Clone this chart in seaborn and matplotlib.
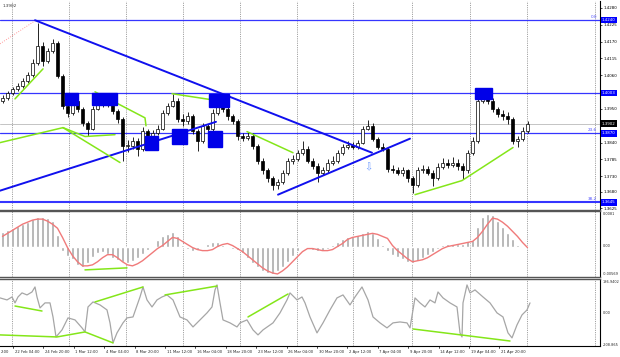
import numpy as np
import matplotlib
matplotlib.use("Agg")
import matplotlib.pyplot as plt
import seaborn as sns

# ---- price data (one candle every 2.5 H4 bars) ----
first_open = 1.3975
close = [1.3987, 1.4003, 1.4016, 1.4026, 1.4042, 1.4062, 1.4101, 1.4156, 1.4107, 1.4140,
         1.4166, 1.4058, 1.3961, 1.3938, 1.3977, 1.3951, 1.3905, 1.3886, 1.3951, 1.3977,
         1.3964, 1.3977, 1.3944, 1.3918, 1.3830, 1.3830, 1.3846, 1.3820, 1.3879, 1.3853,
         1.3873, 1.3886, 1.3938, 1.3961, 1.3977, 1.3918, 1.3912, 1.3928, 1.3879, 1.3846,
         1.3895, 1.3886, 1.3938, 1.3964, 1.3951, 1.3928, 1.3912, 1.3863, 1.3856, 1.3863,
         1.3830, 1.3781, 1.3749, 1.3723, 1.3700, 1.3710, 1.3742, 1.3781, 1.3788, 1.3807,
         1.3820, 1.3781, 1.3765, 1.3742, 1.3749, 1.3775, 1.3781, 1.3807, 1.3827, 1.3833,
         1.3827, 1.3840, 1.3886, 1.3895, 1.3853, 1.3827, 1.3820, 1.3755, 1.3749, 1.3742,
         1.3749, 1.3723, 1.3700, 1.3749, 1.3755, 1.3742, 1.3723, 1.3762, 1.3775, 1.3768,
         1.3775, 1.3765, 1.3749, 1.3807, 1.3846, 1.3977, 1.3996, 1.3977, 1.3951, 1.3934,
         1.3928, 1.3918, 1.3846, 1.3853, 1.3879, 1.3902]
high = [1.3995, 1.4010, 1.4022, 1.4034, 1.4050, 1.4070, 1.4112, 1.4231, 1.4170, 1.4150,
        1.4178, 1.4172, 1.4064, 1.3970, 1.3990, 1.3995, 1.3958, 1.3912, 1.3960, 1.3990,
        1.3998, 1.3992, 1.3985, 1.3950, 1.3925, 1.3850, 1.3858, 1.3855, 1.3890, 1.3885,
        1.3882, 1.3896, 1.3946, 1.3970, 1.3999, 1.3985, 1.3935, 1.3940, 1.3935, 1.3885,
        1.3905, 1.3902, 1.3950, 1.3990, 1.3985, 1.3962, 1.3935, 1.3918, 1.3872, 1.3875,
        1.3870, 1.3836, 1.3790, 1.3756, 1.3730, 1.3722, 1.3750, 1.3790, 1.3800, 1.3815,
        1.3845, 1.3828, 1.3790, 1.3772, 1.3760, 1.3785, 1.3795, 1.3815, 1.3835, 1.3846,
        1.3842, 1.3850, 1.3895, 1.3914, 1.3905, 1.3860, 1.3838, 1.3826, 1.3768, 1.3760,
        1.3762, 1.3755, 1.3730, 1.3760, 1.3768, 1.3765, 1.3750, 1.3772, 1.3790, 1.3785,
        1.3792, 1.3786, 1.3775, 1.3815, 1.3860, 1.3985, 1.4010, 1.4005, 1.3985, 1.3958,
        1.3945, 1.3940, 1.3925, 1.3862, 1.3890, 1.3910]
low = [1.3968, 1.3980, 1.3996, 1.4008, 1.4020, 1.4035, 1.4055, 1.4095, 1.4090, 1.4100,
       1.4132, 1.4050, 1.3950, 1.3925, 1.3930, 1.3940, 1.3895, 1.3862, 1.3880, 1.3945,
       1.3955, 1.3955, 1.3935, 1.3905, 1.3780, 1.3810, 1.3818, 1.3795, 1.3812, 1.3840,
       1.3845, 1.3866, 1.3880, 1.3930, 1.3955, 1.3908, 1.3895, 1.3902, 1.3868, 1.3814,
       1.3840, 1.3875, 1.3848, 1.3930, 1.3940, 1.3915, 1.3900, 1.3850, 1.3845, 1.3848,
       1.3820, 1.3770, 1.3738, 1.3710, 1.3685, 1.3690, 1.3704, 1.3735, 1.3770, 1.3780,
       1.3800, 1.3772, 1.3755, 1.3712, 1.3735, 1.3740, 1.3768, 1.3775, 1.3800, 1.3820,
       1.3818, 1.3820, 1.3835, 1.3880, 1.3845, 1.3818, 1.3812, 1.3745, 1.3740, 1.3735,
       1.3732, 1.3712, 1.3676, 1.3695, 1.3742, 1.3735, 1.3697, 1.3718, 1.3755, 1.3758,
       1.3762, 1.3752, 1.3720, 1.3742, 1.3800, 1.3840, 1.3970, 1.3965, 1.3940, 1.3925,
       1.3915, 1.3900, 1.3835, 1.3827, 1.3845, 1.3870]

# ---- MACD ----
macd_hist = [0.00324, 0.00370, 0.00417, 0.00463, 0.00509, 0.00555, 0.00625, 0.00671, 0.00671, 0.00648,
             0.00579, 0.00255, -0.00093, -0.00208, -0.00278, -0.00417, -0.00463, -0.00370, -0.00231, -0.00139,
             -0.00116, -0.00162, -0.00255, -0.00301, -0.00347, -0.00370, -0.00324, -0.00255, -0.00162, -0.00069,
             0.00023, 0.00139, 0.00231, 0.00278, 0.00324, 0.00231, 0.00046, -0.00046, -0.00093, -0.00069,
             -0.00023, 0.00069, 0.00093, 0.00093, 0.00046, -0.00023, -0.00046, -0.00069, -0.00139, -0.00255,
             -0.00370, -0.00463, -0.00555, -0.00602, -0.00625, -0.00555, -0.00463, -0.00347, -0.00208, -0.00093,
             -0.00023, -0.00046, -0.00069, -0.00093, -0.00093, -0.00046, 0.00046, 0.00093, 0.00162, 0.00208,
             0.00231, 0.00255, 0.00301, 0.00347, 0.00301, 0.00185, 0.00046, -0.00093, -0.00185, -0.00231,
             -0.00278, -0.00347, -0.00370, -0.00324, -0.00255, -0.00185, -0.00116, -0.00046, 0.00046, 0.00069,
             0.00069, 0.00069, 0.00069, 0.00116, 0.00139, 0.00440, 0.00671, 0.00740, 0.00717, 0.00579,
             0.00440, 0.00301, 0.00162, 0.00046, 0.00023, 0.00012]
macd_signal = [0.00231, 0.00301, 0.00370, 0.00440, 0.00509, 0.00555, 0.00602, 0.00625, 0.00625, 0.00579,
               0.00509, 0.00417, 0.00208, -0.00023, -0.00208, -0.00347, -0.00440, -0.00440, -0.00417, -0.00347,
               -0.00255, -0.00185, -0.00185, -0.00255, -0.00347, -0.00417, -0.00440, -0.00393, -0.00324, -0.00231,
               -0.00139, -0.00046, 0.00023, 0.00116, 0.00208, 0.00185, 0.00116, 0.00046, -0.00023, -0.00069,
               -0.00093, -0.00093, -0.00069, 0.0, 0.00046, 0.00069, 0.00023, -0.00046, -0.00116, -0.00208,
               -0.00301, -0.00393, -0.00486, -0.00555, -0.00602, -0.00625, -0.00555, -0.00463, -0.00347, -0.00231,
               -0.00116, -0.00046, -0.00046, -0.00069, -0.00093, -0.00093, -0.00069, 0.0, 0.00069, 0.00162,
               0.00208, 0.00231, 0.00255, 0.00278, 0.00301, 0.00278, 0.00231, 0.00185, 0.00023, -0.00093,
               -0.00185, -0.00278, -0.00347, -0.00324, -0.00301, -0.00255, -0.00185, -0.00116, -0.00046, 0.0,
               0.00023, 0.00046, 0.00069, 0.00093, 0.00116, 0.00208, 0.00347, 0.00509, 0.00648, 0.00625,
               0.00555, 0.00463, 0.00347, 0.00231, 0.00093, -0.00023]

# ---- oscillator (bar index, value) ----
osc_x = [0, 3.5, 6, 7.5, 9, 11, 13.5, 16, 17.5, 18.5, 20, 22.5, 25, 26.5, 28, 31, 34, 37.5, 41, 42.5,
         44, 46.5, 50, 53.5, 55, 56.5, 58.5, 61.5, 63.5, 66.5, 70, 71.5, 73.5, 76, 78.5, 81, 83.5, 86.5,
         90, 93.5, 96.5, 100, 103.5, 106, 107.5, 108.5, 110, 111.5, 115, 118.5, 120, 123.5, 126.5, 129,
         131.5, 136.5, 140, 143.5, 145, 148.5, 151, 152.5, 155, 158.5, 161.5, 165, 168.5, 171.5, 175,
         177.5, 181, 184, 186.5, 190, 193.5, 196.5, 200, 203.5, 205, 207.5, 210, 212.5, 215, 217.5, 219,
         221.5, 225, 228.5, 230, 231, 231.5, 233.5, 235, 237.5, 241.5, 245, 248.5, 251.5, 254, 256,
         258.5, 261, 263.5, 265]
osc_v = [90, 77, 96, 58, 96, 122, 109, 128, 160, 96, 26, 58, 58, -32, -160, -115, -38, -51, -102, -128,
         32, 64, 45, 13, -70, -198, -134, -70, -38, -32, 96, 160, 77, 32, 77, 96, 109, 77,
         -32, -51, -96, -51, -6, 32, 141, 173, 58, -51, -70, -96, -70, -51, -115, -147,
         -115, -70, -6, 77, 122, 77, 96, 58, -32, -134, -70, 13, 90, 109, 45,
         96, 160, 77, -32, -70, -102, -70, -64, -70, -102, 90, 58, 32, 77, 58, 128,
         90, 58, 32, -134, -160, 58, 173, 122, 141, 96, 58, -6, -32, -134, -166,
         -83, -19, 13, 58]

# first entry is the tail of a label cut by the left edge
time_labels = ["2:00", "22 Feb 04:00", "24 Feb 20:00", "1 Mar 12:00", "4 Mar 04:00",
               "8 Mar 20:00", "11 Mar 12:00", "16 Mar 04:00", "18 Mar 20:00", "23 Mar 12:00",
               "26 Mar 04:00", "30 Mar 20:00", "2 Apr 12:00", "7 Apr 04:00", "9 Apr 20:00",
               "14 Apr 12:00", "19 Apr 04:00", "21 Apr 20:00"]

price_ticks = [1.4280, 1.4225, 1.4170, 1.4115, 1.4060, 1.3950, 1.3840, 1.3785, 1.3730, 1.3680, 1.3625]
level_prices = [1.4240, 1.4003, 1.3870, 1.3645]
fib_names = ["0.0", "", "23.6", "38.2"]
last_price = 1.3902

# trend lines, zones, divergence lines (bar index, price)
blue_trends = [((17.5, 1.4240), (186, 1.3807)),
               ((0, 1.3683), (108, 1.3908)),
               ((139, 1.3670), (205, 1.3853))]
zones = [(32.5, 39, 1.3964, 1.4003), (46, 58.5, 1.3964, 1.4003), (72.5, 79, 1.3817, 1.3863),
         (86, 93.5, 1.3837, 1.3886), (104, 111, 1.3827, 1.3879), (104.5, 114.5, 1.3957, 1.4000),
         (237.5, 246, 1.3983, 1.4019)]
green_price = [[(7.5, 1.3983), (21.5, 1.4081)],
               [(0, 1.3840), (31.5, 1.3889)],
               [(31.5, 1.3889), (60, 1.3775)],
               [(31.5, 1.3889), (42.5, 1.3860), (57.5, 1.3866)],
               [(47.5, 1.4006), (72.5, 1.3921), (73, 1.3895)],
               [(86, 1.4000), (109, 1.3977)],
               [(123.5, 1.3876), (146.5, 1.3807)],
               [(207.5, 1.3670), (231, 1.3716), (256.5, 1.3824)]]
green_macd = [[(42.5, -0.00532), (63.5, -0.00486)]]
green_osc = [[(7.5, 38), (21, 6)],
             [(0, -147), (28.5, -160), (42.5, -128), (56.5, -198)],
             [(47.5, 64), (71.5, 160)],
             [(82.5, 109), (108.5, 166)],
             [(124, -32), (144, 115)],
             [(206.5, -109), (255, -186)]]

sns.set_theme(style="white")
plt.rcParams['font.family'] = ['DejaVu Sans']

W, H = 620, 357
fig = plt.figure(figsize=(W / 100, H / 100), dpi=100)


def panel(top, bottom):
    return fig.add_axes([0, 1 - bottom / H, 600 / W, (bottom - top) / H])


ax1 = panel(1, 209.5)
ax2 = panel(211, 277)
ax3 = panel(279, 346)

BLUE = "#0000ff"
GREEN = "#84e619"
AX_FS = 2.9
grid_x = [6, 34.5, 63, 91.5, 120, 148.5, 176.5, 206, 235, 263.5, 297.5]

for ax in (ax1, ax2, ax3):
    ax.set_xlim(0, 300)
    ax.set_facecolor("white")
    for gx in grid_x:
        ax.axvline(gx, color="#7a7a7a", lw=0.5, ls=(0, (1.6, 1.6)), zorder=0)
    ax.spines["left"].set_visible(False)
    ax.spines["right"].set_color("black")
    ax.spines["right"].set_linewidth(0.8)
    for s in ("top", "bottom"):
        ax.spines[s].set_color("#555555")
        ax.spines[s].set_linewidth(1.0)
    ax.set_xticks([])
    ax.yaxis.tick_right()
    ax.tick_params(axis="y", labelsize=AX_FS, length=1.5, width=0.5, pad=0.8, colors="black")
ax1.spines["top"].set_visible(False)

# ---- main price panel ----
ax1.set_ylim(1.36215, 1.43028)
cx = 1.25 + 2.5 * np.arange(len(close))
opens = [first_open] + close[:-1]
ax1.vlines(cx, low, high, color="black", lw=0.6, zorder=3)
for x, o, c in zip(cx, opens, close):
    up = c >= o
    ax1.bar(x, max(abs(c - o), 0.00008), bottom=min(o, c), width=1.9,
            color="white" if up else "black", edgecolor="black", linewidth=0.5, zorder=4)

for p in level_prices:
    ax1.axhline(p, color="#3535ff", lw=0.9 if p != 1.3645 else 1.5, zorder=2)
ax1.axhline(last_price, color="#c4c4c4", lw=0.7, zorder=1)
for (x0, y0), (x1, y1) in blue_trends:
    ax1.plot([x0, x1], [y0, y1], color="#1010ee", lw=1.4, zorder=5)
ax1.plot([0, 17.5], [1.4163, 1.4238], color="#ff9a9a", lw=0.7, ls=(0, (1, 1.5)), zorder=2)
for x0, x1, y0, y1 in zones:
    ax1.add_patch(plt.Rectangle((x0, y0), x1 - x0, y1 - y0, color="#0000e8", zorder=6))
for seg in green_price:
    xs, ys = zip(*seg)
    ax1.plot(xs, ys, color=GREEN, lw=1.1, zorder=5)
ax1.text(184, 1.3758, "\u21e9", color="#6f9cff", fontsize=7, ha="center", va="center", zorder=6)
ax1.text(0.004, 0.985, "1.3902", transform=ax1.transAxes, fontsize=3.0, color="#333333",
         ha="left", va="top")

ax1.set_yticks(price_ticks)
ax1.set_yticklabels([f"{p:.4f}" for p in price_ticks])
ytr = ax1.get_yaxis_transform()
for p, name in zip(level_prices, fib_names):
    ax1.text(1.003, p, f"{p:.4f}", transform=ytr, fontsize=AX_FS, color="white", ha="left",
             va="center", bbox=dict(boxstyle="square,pad=0.3", fc=BLUE, ec="none"), clip_on=False)
    if name:
        ax1.text(0.995, p + 0.0004, name, transform=ytr, fontsize=3.0, color="#4a4aff",
                 ha="right", va="bottom")
ax1.text(1.003, last_price, f"{last_price:.4f}", transform=ytr, fontsize=AX_FS, color="white",
         ha="left", va="center", bbox=dict(boxstyle="square,pad=0.3", fc="black", ec="none"),
         clip_on=False)

# ---- MACD panel ----
ax2.set_ylim(-0.00694, 0.0081)
ax2.bar(cx, macd_hist, width=1.3, color="#aaaaaa", zorder=2)
sns.lineplot(x=cx, y=macd_signal, ax=ax2, color="#f07a7a", lw=1.0, zorder=3)
for seg in green_macd:
    xs, ys = zip(*seg)
    ax2.plot(xs, ys, color=GREEN, lw=1.1, zorder=4)
ax2.set_yticks([])
ax2.set_ylabel("")
for frac, lab in [(0.955, "0.0081"), (0.47, "0.00"), (0.04, "-0.00569")]:
    ax2.text(1.004, frac, lab, transform=ax2.transAxes, fontsize=2.5, ha="left", va="center")

# ---- oscillator panel ----
ax3.set_ylim(-218, 211)
sns.lineplot(x=osc_x, y=osc_v, ax=ax3, color="#a6a6a6", lw=0.9, zorder=3)
for seg in green_osc:
    xs, ys = zip(*seg)
    ax3.plot(xs, ys, color=GREEN, lw=1.1, zorder=4)
ax3.set_yticks([])
ax3.set_ylabel("")
for frac, lab in [(0.95, "186.9402"), (0.5, "0.00"), (0.02, "-208.865")]:
    ax3.text(1.004, frac, lab, transform=ax3.transAxes, fontsize=2.5, ha="left", va="center")
ax3.spines["bottom"].set_color("black")
ax3.spines["bottom"].set_linewidth(0.8)

label_x = -8.7 + 15.2 * np.arange(len(time_labels))
label_x[0] = 0.2
xtr = ax3.get_xaxis_transform()
for i, (x, lab) in enumerate(zip(label_x, time_labels)):
    if i > 0:
        ax3.plot([x, x], [0, -0.03], transform=xtr, color="black", lw=0.5, clip_on=False)
        x = x + 0.8
    ax3.text(x, -0.09, lab, transform=xtr, fontsize=2.7, ha="left", va="center", clip_on=False)

fig.savefig("out.png", dpi=100, facecolor="white")
